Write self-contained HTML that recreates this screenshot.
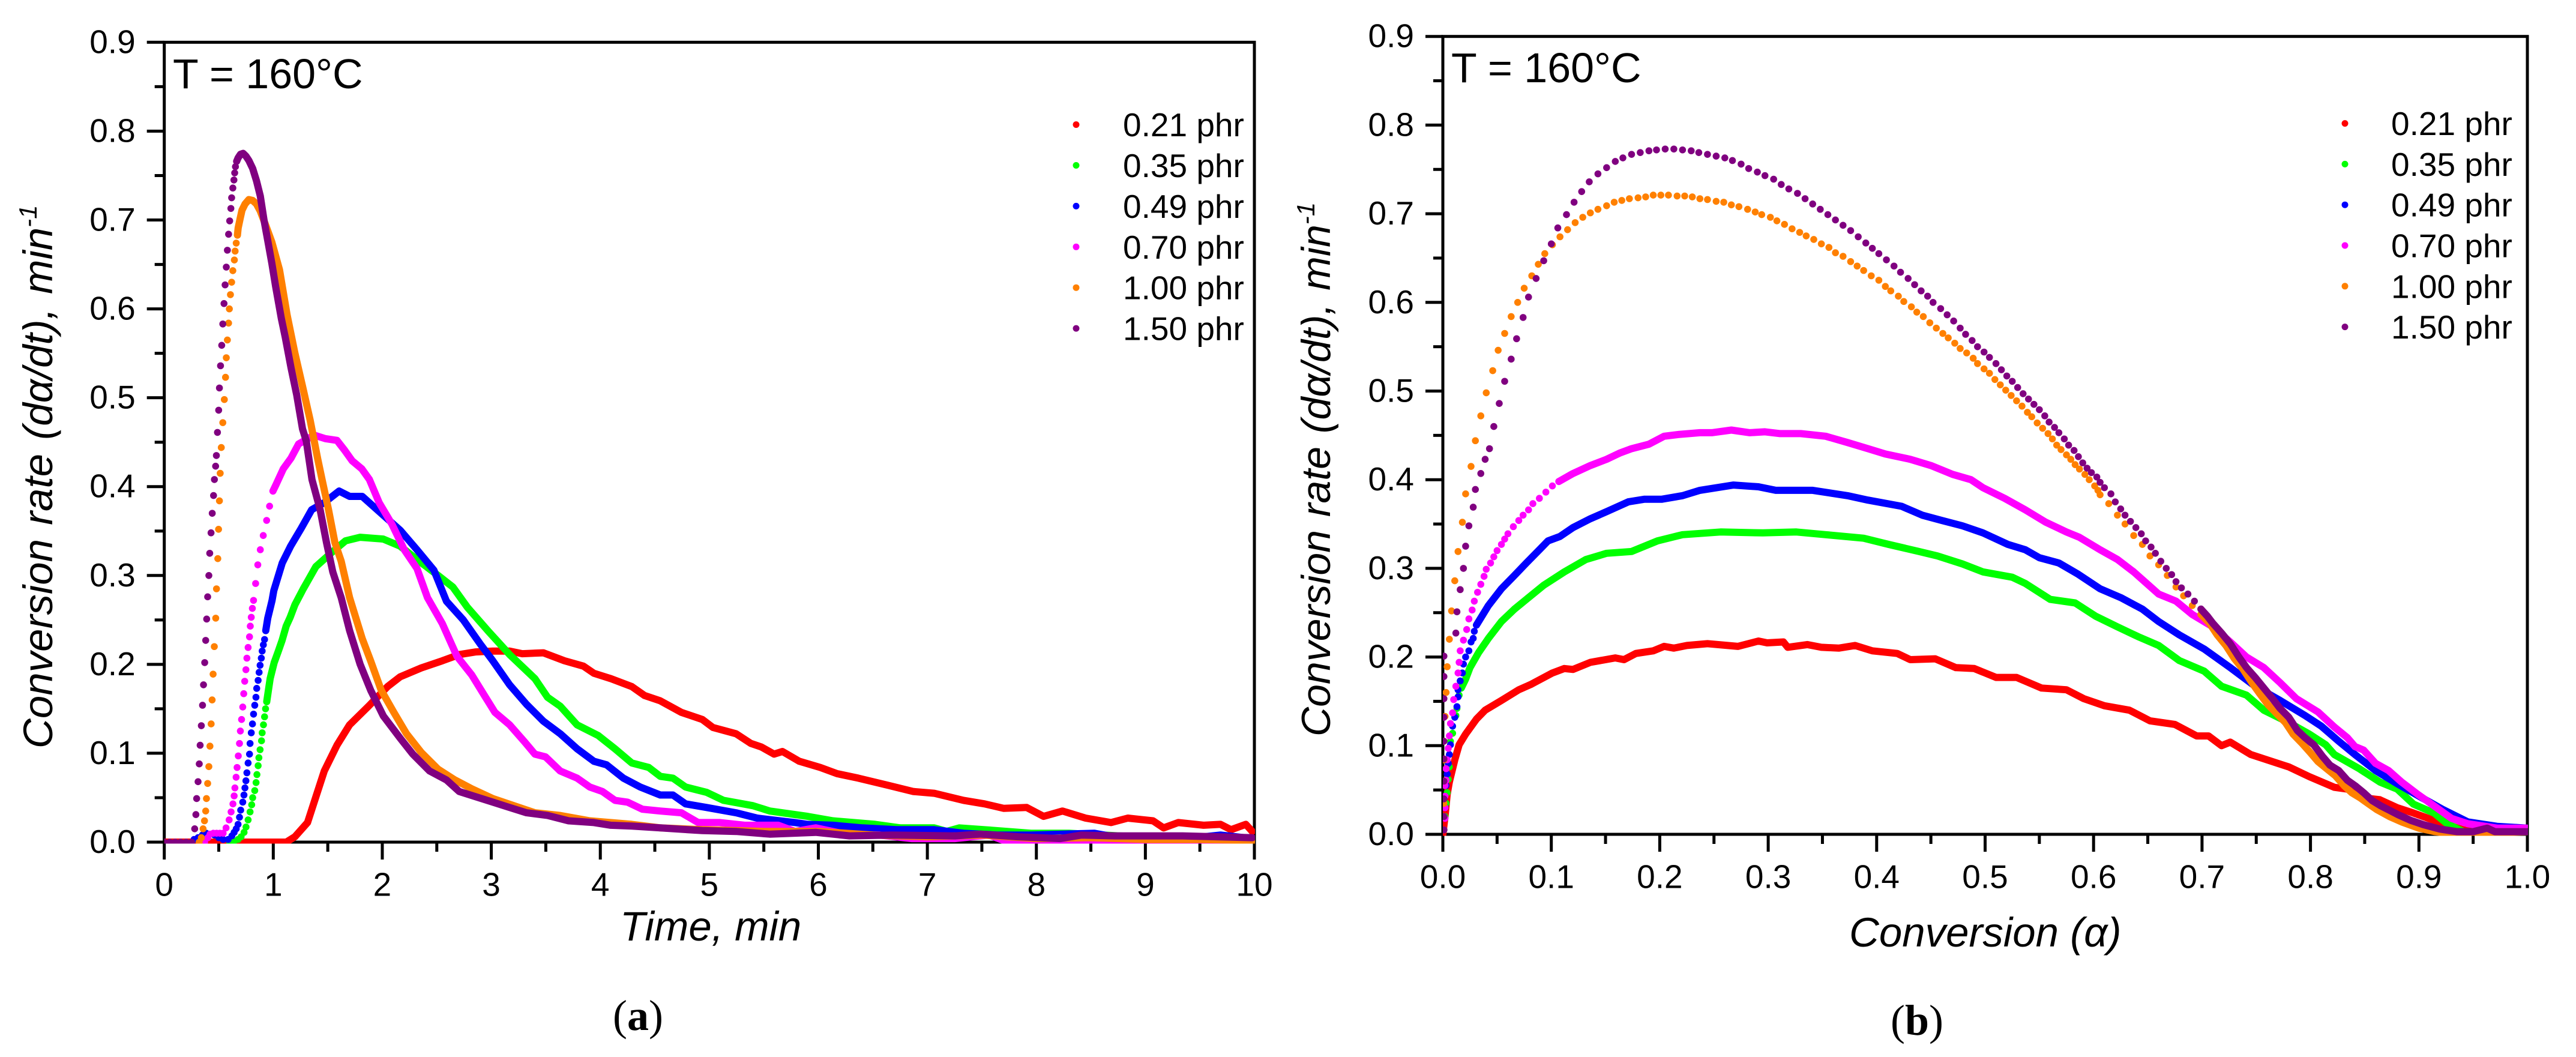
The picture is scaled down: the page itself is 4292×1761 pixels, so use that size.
<!DOCTYPE html>
<html lang="en">
<head>
<meta charset="utf-8">
<title>Conversion rate at 160°C</title>
<style>
html,body{margin:0;padding:0;background:#fff;width:4292px;height:1761px;overflow:hidden}
svg{display:block}
text{font-family:"Liberation Sans",sans-serif;fill:#000}
.tick{font-size:55px}
.axis-title{font-size:69px;font-style:italic}
.temp{font-size:70px}
.panel{font-family:"Liberation Serif",serif;font-size:72px}
</style>
</head>
<body>
<svg id="figure" xmlns="http://www.w3.org/2000/svg" width="4292" height="1761" viewBox="0 0 4292 1761">
  <rect x="0" y="0" width="4292" height="1761" fill="#fff"/>
  <g id="chart-a"></g>
  <g id="chart-b"></g>
  <text class="temp" x="288" y="147">T = 160°C</text>
  <text class="temp" x="2418" y="137">T = 160°C</text>
  <text class="axis-title" x="1033" y="1567">Time, min</text>
  <text class="axis-title" x="3081" y="1577">Conversion (α)</text>
  <text class="axis-title" style="word-spacing:4px" transform="translate(87 1247) rotate(-90)" x="0" y="0">Conversion rate (dα/dt), min<tspan font-size="42" dy="-26">-1</tspan></text>
  <text class="axis-title" style="font-size:68px;word-spacing:3px" transform="translate(2216 1227) rotate(-90)" x="0" y="0">Conversion rate (dα/dt), min<tspan font-size="42" dy="-26">-1</tspan></text>
  <text class="panel" x="1021" y="1716">(<tspan font-weight="bold">a</tspan>)</text>
  <text class="panel" x="3150" y="1724">(<tspan font-weight="bold">b</tspan>)</text>
</svg>
<script>
const seriesLabels = ['0.21 phr','0.35 phr','0.49 phr','0.70 phr','1.00 phr','1.50 phr'];
const seriesColors = ['#ff0000','#00ff00','#0000ff','#ff00ff','#ff8000','#800080'];
const timeTickLabels = ['0','1','2','3','4','5','6','7','8','9','10'];
const conversionTickLabels = ['0.0','0.1','0.2','0.3','0.4','0.5','0.6','0.7','0.8','0.9','1.0'];
const rateTickLabels = ['0.0','0.1','0.2','0.3','0.4','0.5','0.6','0.7','0.8','0.9'];

/* ---------- panel (a): rate vs time ---------- */
const aDotT021 = [];
const aDotR021 = [];
const aLineT021 = [0,.5,1.12,1.198,1.314,1.391,1.468,1.584,1.7,1.874,2.048,2.164,2.357,2.55,2.705,2.859,3.014,3.168,3.284,3.478,3.671,3.845,3.941,4.096,4.289,4.405,4.55,4.743,4.936,5.033,5.245,5.381,5.478,5.594,5.671,5.825,6.018,6.173,6.366,6.636,6.868,7.062,7.332,7.525,7.699,7.911,8.066,8.24,8.452,8.684,8.839,9.07,9.167,9.302,9.534,9.689,9.786,9.921,9.98];
const aLineR021 = [0,0,0,.006,.022,.051,.08,.109,.132,.153,.175,.186,.196,.204,.211,.214,.215,.215,.212,.213,.204,.198,.19,.184,.175,.165,.159,.146,.138,.129,.122,.111,.107,.099,.102,.091,.084,.077,.072,.064,.057,.055,.047,.043,.038,.039,.029,.035,.027,.022,.027,.024,.016,.022,.019,.02,.014,.02,.012];

const aDotT035 = [.6,.64,.677,.705,.732,.75,.769,.787,.802,.811,.83,.842,.85,.861,.868,.879,.892,.898,.91,.92,.929,.94];
const aDotR035 = [0,.001,.003,.006,.011,.017,.025,.034,.042,.05,.058,.067,.076,.086,.095,.104,.114,.123,.132,.141,.15,.158];
const aLineT035 = [.94,.953,.971,1.008,1.044,1.081,1.118,1.155,1.198,1.275,1.391,1.546,1.662,1.797,2.009,2.164,2.318,2.512,2.647,2.782,2.975,3.168,3.4,3.516,3.632,3.787,3.98,4.134,4.289,4.444,4.55,4.666,4.782,4.975,5.13,5.4,5.555,5.902,6.134,6.521,6.753,7.062,7.178,7.294,7.525,7.95,8.298,8.916,9.38,9.98];
const aLineR035 = [.158,.169,.184,.202,.214,.227,.243,.253,.267,.285,.31,.327,.339,.343,.341,.333,.318,.3,.287,.264,.237,.211,.184,.163,.153,.132,.12,.105,.089,.084,.074,.072,.062,.056,.047,.041,.035,.029,.024,.02,.016,.016,.012,.016,.014,.01,.01,.006,.006,.004];

const aDotT049 = [.273,.31,.35,.384,.42,.46,.5,.54,.586,.62,.641,.66,.677,.69,.701,.72,.731,.74,.749,.758,.769,.782,.787,.798,.809,.819,.83,.841,.848,.861,.87,.879,.89,.898,.909,.92,.931];
const aDotR049 = [.003,.005,.008,.01,.009,.008,.005,.003,.003,.007,.011,.015,.02,.028,.036,.045,.053,.061,.069,.078,.089,.099,.111,.123,.133,.144,.154,.163,.173,.182,.191,.199,.207,.215,.222,.228,.238];
const aLineT049 = [.931,.949,.971,.989,1.005,1.082,1.159,1.256,1.352,1.468,1.604,1.7,1.816,1.971,2.164,2.318,2.473,2.589,2.743,2.898,3.014,3.168,3.323,3.478,3.632,3.787,3.941,4.057,4.212,4.366,4.55,4.666,4.782,4.975,5.245,5.439,5.786,5.902,6.134,6.405,6.714,7.062,7.332,7.641,7.95,8.53,8.8,9.07,9.689,9.98];
const aLineR049 = [.238,.252,.263,.272,.283,.314,.333,.353,.374,.382,.395,.389,.389,.372,.351,.329,.306,.271,.25,.223,.204,.177,.155,.136,.122,.105,.091,.087,.072,.062,.053,.053,.043,.039,.033,.027,.022,.02,.019,.016,.014,.014,.01,.008,.008,.01,.004,0,.008,.004];

const aDotT070 = [.37,.4,.42,.45,.48,.51,.54,.567,.595,.613,.63,.641,.648,.659,.668,.679,.69,.698,.709,.72,.729,.738,.749,.758,.769,.782,.789,.798,.808,.819,.838,.858,.881,.908,.939,.966,.997];
const aDotR070 = [0,.005,.009,.01,.01,.01,.01,.016,.025,.034,.043,.052,.061,.073,.084,.097,.111,.125,.138,.152,.167,.181,.194,.207,.219,.231,.243,.253,.263,.272,.291,.312,.329,.345,.362,.378,.395];
const aLineT070 = [.997,1.024,1.092,1.162,1.232,1.303,1.373,1.478,1.584,1.654,1.724,1.812,1.882,1.971,2.087,2.202,2.318,2.415,2.55,2.685,2.821,2.937,3.033,3.168,3.304,3.4,3.497,3.632,3.787,3.903,4.019,4.134,4.25,4.386,4.55,4.743,4.898,5.091,5.323,5.632,5.787,5.976,6.286,6.56,6.859,7.25,7.565,7.719,8.414,8.8,9.98];
const aLineR070 = [.395,.402,.42,.432,.448,.453,.458,.454,.452,.441,.429,.42,.408,.382,.358,.329,.308,.275,.246,.209,.188,.165,.146,.132,.113,.099,.096,.08,.072,.062,.057,.047,.045,.037,.035,.033,.022,.022,.019,.019,.012,.016,.008,.008,.004,.004,.008,.001,.001,0,.001];

const aDotT100 = [.32,.34,.356,.369,.38,.387,.398,.409,.419,.43,.439,.448,.459,.472,.479,.491,.498,.506,.513,.523,.537,.551,.562,.569,.579,.59,.597,.607,.618,.629,.643,.65,.66,.671];
const aDotR100 = [0,.005,.015,.024,.035,.049,.066,.085,.108,.133,.16,.189,.22,.252,.285,.319,.352,.384,.415,.444,.472,.498,.523,.545,.565,.584,.6,.616,.63,.643,.655,.665,.674,.683];
const aLineT100 = [.671,.678,.695,.713,.741,.776,.811,.846,.881,.934,.987,1.057,1.127,1.197,1.268,1.338,1.408,1.449,1.507,1.565,1.623,1.7,1.816,1.893,1.99,2.106,2.222,2.357,2.512,2.666,2.821,3.014,3.207,3.4,3.632,3.903,4.289,4.552,4.936,5.5,6,6.5,7,7.5,8,8.5,9,9.5,10];
const aLineR100 = [.683,.691,.701,.711,.718,.723,.722,.718,.71,.693,.675,.644,.593,.551,.513,.475,.431,.407,.374,.337,.316,.275,.229,.204,.171,.146,.122,.101,.082,.07,.06,.049,.041,.033,.03,.024,.02,.016,.014,.012,.012,.008,.006,.008,.004,.005,.003,.003,.002];

const aDotT150 = [0,.05,.1,.15,.2,.25,.279,.29,.297,.31,.321,.329,.34,.351,.36,.371,.38,.389,.398,.409,.417,.429,.44,.452,.46,.471,.478,.488,.499,.506,.516,.527,.537,.548,.558,.569,.579,.59,.6,.611,.618,.629,.639,.646,.653,.664];
const aDotR150 = [0,0,0,0,0,0,.015,.031,.049,.068,.088,.109,.131,.154,.177,.202,.227,.251,.276,.3,.325,.348,.37,.39,.408,.423,.435,.461,.486,.511,.536,.559,.583,.606,.627,.647,.666,.684,.699,.713,.725,.736,.745,.753,.76,.766];
const aLineT150 = [.664,.678,.699,.723,.748,.776,.811,.846,.881,.916,.952,.987,1.022,1.074,1.11,1.162,1.215,1.268,1.303,1.355,1.43,1.488,1.546,1.623,1.7,1.797,1.893,2.009,2.164,2.28,2.434,2.589,2.705,2.859,3.014,3.168,3.323,3.516,3.709,3.941,4.096,4.289,4.55,4.936,5.245,5.554,5.976,6.286,6.672,7.254,7.486,7.832,8.22,8.414,8.724,9.342,9.98];
const aLineR150 = [.766,.77,.774,.775,.772,.767,.758,.744,.727,.699,.675,.651,.625,.589,.568,.534,.503,.465,.451,.408,.374,.337,.304,.275,.238,.2,.171,.142,.117,.099,.08,.07,.057,.051,.045,.039,.033,.03,.024,.022,.019,.018,.016,.013,.012,.009,.011,.007,.008,.007,.009,.006,.004,.008,.007,.007,.005];

/* ---------- panel (b): rate vs conversion ---------- */
const bDotA021 = [];
const bDotR021 = [];
const bLineA021 = [0,.002,.004,.006,.011,.015,.021,.031,.039,.054,.07,.081,.101,.112,.12,.136,.159,.167,.178,.194,.204,.213,.225,.244,.272,.291,.299,.314,.318,.336,.349,.365,.38,.396,.419,.431,.454,.473,.49,.51,.529,.552,.575,.591,.61,.633,.652,.675,.695,.706,.718,.726,.745,.76,.78,.799,.822,.834,.849,.864,.88,.895,.918,.941,1];
const bLineR021 = [0,.02,.045,.059,.084,.101,.113,.13,.14,.151,.163,.169,.182,.187,.186,.194,.199,.197,.204,.207,.212,.21,.213,.215,.212,.218,.216,.217,.211,.214,.211,.21,.213,.207,.204,.197,.198,.188,.187,.177,.177,.165,.163,.153,.145,.14,.128,.124,.111,.111,.1,.104,.09,.084,.076,.065,.053,.051,.041,.039,.03,.024,.014,.005,.003];

const bDotA035 = [.001,.002,.003,.004,.005,.006,.007,.009,.012,.013,.015,.017];
const bDotR035 = [.005,.02,.035,.047,.062,.076,.105,.114,.134,.142,.157,.165];
const bLineA035 = [.017,.021,.025,.033,.042,.054,.066,.077,.093,.112,.132,.151,.174,.198,.221,.256,.295,.326,.353,.388,.411,.439,.456,.479,.498,.525,.537,.56,.583,.602,.622,.641,.66,.679,.702,.718,.741,.757,.78,.799,.814,.822,.845,.864,.88,.895,.914,.926,.941,1];
const bLineR035 = [.165,.175,.188,.205,.221,.24,.254,.265,.281,.296,.31,.317,.319,.331,.338,.341,.34,.341,.338,.334,.327,.319,.314,.305,.296,.29,.283,.265,.261,.246,.234,.223,.213,.196,.184,.167,.157,.14,.126,.113,.101,.09,.074,.059,.051,.034,.024,.012,.003,.003];

const bDotA049 = [.001,.002,.003,.004,.005,.006,.007,.009,.011,.013,.014,.014,.016,.018,.019,.021,.024,.026,.028,.029,.031];
const bDotR049 = [.005,.03,.055,.068,.08,.09,.101,.122,.132,.144,.155,.163,.173,.182,.192,.2,.207,.217,.221,.229,.236];
const bLineA049 = [.031,.035,.042,.054,.066,.077,.089,.097,.108,.12,.136,.151,.171,.186,.202,.221,.237,.268,.291,.307,.341,.373,.392,.423,.442,.46,.479,.498,.521,.537,.55,.568,.585,.606,.625,.645,.66,.679,.702,.726,.749,.772,.795,.81,.826,.841,.86,.88,.903,.922,.945,.972,1];
const bLineR049 = [.236,.244,.258,.277,.292,.306,.321,.331,.336,.346,.356,.364,.375,.378,.378,.382,.388,.394,.392,.388,.388,.382,.377,.37,.36,.354,.348,.34,.327,.321,.312,.306,.294,.277,.267,.254,.24,.225,.209,.188,.167,.151,.134,.122,.105,.09,.072,.057,.041,.028,.014,.009,.007];

const bDotA070 = [.001,.002,.002,.002,.002,.003,.003,.004,.005,.006,.007,.009,.01,.012,.014,.015,.016,.019,.022,.024,.027,.029,.032,.035,.038,.04,.044,.047,.05,.054,.057,.06,.065,.07,.074,.079,.083,.089,.095,.101,.107];
const bDotR070 = [.005,.018,.03,.043,.055,.061,.074,.084,.097,.111,.125,.137,.152,.167,.182,.194,.207,.219,.231,.243,.253,.263,.273,.282,.291,.299,.306,.313,.32,.327,.333,.339,.347,.354,.36,.366,.373,.379,.386,.393,.398];
const bLineA070 = [.107,.12,.136,.151,.163,.174,.19,.204,.217,.237,.248,.266,.283,.297,.311,.33,.353,.373,.392,.408,.431,.45,.47,.487,.498,.518,.537,.556,.575,.587,.606,.622,.637,.649,.66,.676,.691,.71,.726,.741,.757,.772,.787,.807,.822,.834,.841,.849,.86,.872,.884,.899,.914,.93,.945,.972,1];
const bLineR070 = [.398,.407,.416,.423,.43,.435,.44,.449,.451,.453,.453,.456,.453,.454,.452,.452,.449,.442,.435,.429,.423,.416,.406,.4,.391,.379,.366,.352,.341,.335,.321,.31,.296,.283,.271,.263,.248,.234,.217,.2,.188,.171,.153,.138,.121,.109,.099,.095,.08,.072,.059,.045,.032,.018,.012,.007,.007];

const bDotA100 = [.001,.001,.001,.001,.001,.001,.002,.003,.004,.006,.008,.011,.014,.018,.021,.026,.03,.035,.04,.046,.051,.057,.063,.069,.075,.082,.088,.094,.101,.108,.115,.122,.129,.136,.143,.151,.158,.165,.172,.18,.187,.194,.201,.208,.216,.223,.23,.237,.244,.252,.259,.266,.273,.281,.288,.294,.302,.308,.315,.322,.329,.335,.342,.349,.356,.362,.369,.376,.382,.388,.395,.402,.408,.413,.42,.425,.432,.437,.443,.449,.455,.461,.466,.472,.477,.483,.489,.493,.499,.504,.509,.514,.519,.524,.529,.534,.539,.543,.548,.553,.558,.562,.566,.57,.575,.579,.583,.587,.592,.596,.601,.604,.606,.614,.622,.629,.637,.645,.652,.66,.668,.676,.683,.691,.699];
const bDotR100 = [.005,.02,.035,.06,.084,.105,.133,.16,.189,.22,.252,.286,.319,.352,.384,.415,.444,.472,.498,.523,.546,.565,.584,.6,.616,.63,.643,.655,.665,.674,.682,.69,.696,.701,.705,.709,.713,.715,.717,.718,.719,.721,.721,.721,.72,.72,.719,.717,.716,.714,.713,.71,.708,.705,.702,.699,.696,.692,.688,.683,.679,.675,.671,.666,.662,.656,.652,.646,.641,.636,.63,.625,.618,.613,.607,.601,.595,.589,.584,.577,.571,.565,.56,.554,.548,.543,.537,.531,.525,.52,.513,.507,.501,.495,.489,.483,.476,.471,.464,.458,.452,.446,.439,.434,.428,.423,.417,.412,.406,.4,.393,.388,.383,.373,.36,.35,.337,.327,.314,.304,.292,.279,.269,.258,.248];
const bLineA100 = [.699,.707,.714,.722,.73,.738,.746,.753,.761,.769,.777,.784,.792,.8,.807,.815,.823,.831,.838,.846,.854,.861,.873,.884,.9,.915,.935,1];
const bLineR100 = [.248,.238,.225,.213,.198,.186,.171,.159,.146,.136,.126,.113,.103,.092,.082,.074,.066,.055,.047,.041,.034,.028,.02,.014,.007,.003,0,.003];

const bDotA150 = [.001,.001,.001,.001,.001,.001,.001,.001,.001,.001,.012,.013,.016,.019,.021,.024,.028,.03,.035,.039,.043,.047,.052,.057,.063,.068,.074,.079,.086,.093,.1,.106,.114,.121,.128,.135,.143,.151,.159,.166,.174,.182,.19,.197,.205,.213,.221,.229,.236,.244,.252,.26,.267,.275,.282,.29,.297,.305,.312,.319,.327,.334,.341,.348,.355,.362,.369,.376,.383,.39,.396,.402,.409,.416,.422,.429,.435,.441,.447,.452,.459,.465,.471,.477,.482,.488,.493,.499,.504,.51,.515,.52,.525,.53,.535,.54,.545,.55,.555,.559,.564,.568,.573,.577,.582,.586,.59,.594,.598,.603,.606,.61,.616,.62,.625,.629,.634,.639,.644,.648,.653,.657,.662,.667,.672,.676,.681,.687,.693,.699];
const bDotR150 = [.005,.02,.04,.06,.085,.105,.132,.153,.178,.201,.227,.251,.276,.3,.325,.348,.369,.389,.407,.423,.435,.46,.486,.511,.536,.559,.583,.606,.627,.647,.666,.684,.699,.713,.725,.736,.745,.752,.759,.763,.767,.769,.771,.772,.773,.773,.772,.771,.769,.767,.765,.763,.76,.756,.751,.747,.743,.739,.733,.728,.723,.717,.711,.705,.699,.693,.687,.681,.674,.667,.661,.655,.648,.641,.634,.627,.62,.613,.607,.6,.593,.586,.579,.571,.564,.557,.55,.544,.538,.531,.524,.517,.511,.504,.497,.491,.485,.479,.472,.465,.459,.453,.446,.439,.433,.426,.419,.413,.408,.403,.397,.391,.384,.375,.367,.36,.353,.346,.339,.331,.324,.317,.308,.3,.293,.285,.278,.271,.263,.254];
const bLineA150 = [.699,.705,.71,.718,.726,.734,.741,.749,.757,.765,.772,.78,.788,.795,.803,.811,.818,.826,.834,.842,.849,.857,.865,.873,.881,.892,.904,.919,.935,.95,.963,.97,1];
const bLineR150 = [.254,.246,.238,.227,.215,.2,.188,.177,.165,.153,.142,.132,.117,.109,.101,.088,.078,.072,.061,.054,.047,.038,.032,.027,.022,.016,.011,.006,.003,.003,.007,.003,.003];

const svgNS = 'http://www.w3.org/2000/svg';
function make(tag, parent, attrs) {
  const node = document.createElementNS(svgNS, tag);
  for (const k in attrs) node.setAttribute(k, attrs[k]);
  parent.appendChild(node);
  return node;
}

function drawChart(rootId, key, frame, xLabels, yLabels, legendFrame, seriesData) {
  const root = document.getElementById(rootId);
  const xMax = parseFloat(xLabels[xLabels.length - 1]);
  const yMax = parseFloat(yLabels[yLabels.length - 1]);
  const xScale = v => frame.left + (v / xMax) * (frame.right - frame.left);
  const yScale = v => frame.bottom - (v / yMax) * (frame.bottom - frame.top);

  const border = make('rect', root, {x: frame.left, y: frame.top, width: frame.right - frame.left, height: frame.bottom - frame.top, fill: 'none', stroke: '#000', 'stroke-width': 5});
  
  

  xLabels.forEach((lab, i) => {
    const v = parseFloat(lab);
    const tick = make('line', root, {x1: xScale(v), x2: xScale(v), y1: frame.bottom, y2: frame.bottom + 29, stroke: '#000', 'stroke-width': 5});
    
    
    const label = make('text', root, {x: xScale(v), y: frame.bottom + 89.5, 'text-anchor': 'middle', class: 'tick'});
    label.textContent = lab;
    
    
    if (i < xLabels.length - 1) {
      const mid = (v + parseFloat(xLabels[i + 1])) / 2;
      const minor = make('line', root, {x1: xScale(mid), x2: xScale(mid), y1: frame.bottom, y2: frame.bottom + 16, stroke: '#000', 'stroke-width': 5});
      
      
    }
  });

  yLabels.forEach((lab, i) => {
    const v = parseFloat(lab);
    const tick = make('line', root, {x1: frame.left - 29, x2: frame.left, y1: yScale(v), y2: yScale(v), stroke: '#000', 'stroke-width': 5});
    
    
    const label = make('text', root, {x: frame.left - 48, y: yScale(v) + 18, 'text-anchor': 'end', class: 'tick'});
    label.textContent = lab;
    
    
    if (i < yLabels.length - 1) {
      const mid = (v + parseFloat(yLabels[i + 1])) / 2;
      const minor = make('line', root, {x1: frame.left - 16, x2: frame.left, y1: yScale(mid), y2: yScale(mid), stroke: '#000', 'stroke-width': 5});
      
      
    }
  });

  const defs = make('defs', root, {});
  const clip = make('clipPath', defs, {id: 'clip-' + key});
  make('rect', clip, {x: frame.left, y: frame.top, width: frame.right - frame.left + 1, height: frame.bottom - frame.top + 2.5});

  const plot = make('g', root, {'clip-path': 'url(#clip-' + key + ')'});
  
  

  seriesData.forEach((s, idx) => {
    const color = seriesColors[idx];
    const group = make('g', plot, {fill: color});
    
    
    const n = Math.min(s.dotX.length, s.dotY.length);
    for (let i = 0; i < n; i++) {
      const dot = make('circle', group, {cx: xScale(s.dotX[i]), cy: yScale(s.dotY[i]), r: 5.8});
      
      
    }
    const pts = s.lineX.map((x, i) => xScale(x).toFixed(1) + ',' + yScale(s.lineY[i]).toFixed(1)).join(' ');
    const trace = make('polyline', group, {points: pts, fill: 'none', stroke: color, 'stroke-width': 12, 'stroke-linejoin': 'round', 'stroke-linecap': 'round'});
    
    
  });

  seriesLabels.forEach((lab, i) => {
    const y = legendFrame.top + i * legendFrame.step;
    const entry = make('g', root, {});
    
    
    const dot = make('circle', entry, {cx: legendFrame.dotX, cy: y, r: 5.5, fill: seriesColors[i]});
    
    
    const text = make('text', entry, {x: legendFrame.textX, y: y + 19.5, class: 'tick'});
    text.textContent = lab;
    
    
  });
}

drawChart('chart-a', 'a', {left: 273.7, right: 2090, top: 70.4, bottom: 1403}, timeTickLabels, rateTickLabels,
  {top: 207.6, step: 67.9, dotX: 1793, textX: 1871},
  [
    {dotX: aDotT021, dotY: aDotR021, lineX: aLineT021, lineY: aLineR021},
    {dotX: aDotT035, dotY: aDotR035, lineX: aLineT035, lineY: aLineR035},
    {dotX: aDotT049, dotY: aDotR049, lineX: aLineT049, lineY: aLineR049},
    {dotX: aDotT070, dotY: aDotR070, lineX: aLineT070, lineY: aLineR070},
    {dotX: aDotT100, dotY: aDotR100, lineX: aLineT100, lineY: aLineR100},
    {dotX: aDotT150, dotY: aDotR150, lineX: aLineT150, lineY: aLineR150}
  ]);

drawChart('chart-b', 'b', {left: 2404, right: 4211, top: 60.7, bottom: 1390}, conversionTickLabels, rateTickLabels,
  {top: 205.6, step: 67.8, dotX: 3907, textX: 3984},
  [
    {dotX: bDotA021, dotY: bDotR021, lineX: bLineA021, lineY: bLineR021},
    {dotX: bDotA035, dotY: bDotR035, lineX: bLineA035, lineY: bLineR035},
    {dotX: bDotA049, dotY: bDotR049, lineX: bLineA049, lineY: bLineR049},
    {dotX: bDotA070, dotY: bDotR070, lineX: bLineA070, lineY: bLineR070},
    {dotX: bDotA100, dotY: bDotR100, lineX: bLineA100, lineY: bLineR100},
    {dotX: bDotA150, dotY: bDotR150, lineX: bLineA150, lineY: bLineR150}
  ]);
</script>
</body>
</html>
